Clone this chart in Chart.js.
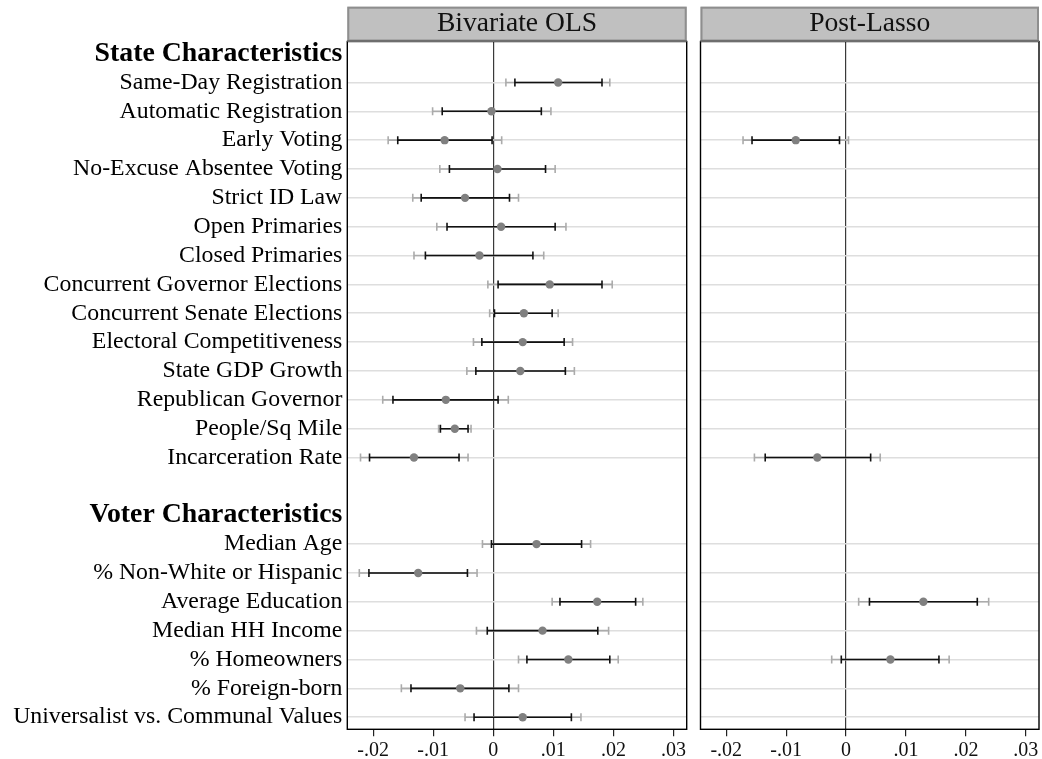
<!DOCTYPE html>
<html>
<head>
<meta charset="utf-8">
<script src="https://cdn.jsdelivr.net/npm/chart.js@4"></script>
<style>
    body { margin: 0; background: #fff; overflow: hidden; }
    canvas { position: absolute; top: 0; }
    #left { left: 0; }
    #right { left: 693px; }
</style>
</head>
<body>
<canvas id="left" width="705" height="759"></canvas>
<canvas id="right" width="362" height="759"></canvas>
<script>
const rowLabels = [
    'State Characteristics',
    'Same-Day Registration',
    'Automatic Registration',
    'Early Voting',
    'No-Excuse Absentee Voting',
    'Strict ID Law',
    'Open Primaries',
    'Closed Primaries',
    'Concurrent Governor Elections',
    'Concurrent Senate Elections',
    'Electoral Competitiveness',
    'State GDP Growth',
    'Republican Governor',
    'People/Sq Mile',
    'Incarceration Rate',
    '',
    'Voter Characteristics',
    'Median Age',
    '% Non-White or Hispanic',
    'Average Education',
    'Median HH Income',
    '% Homeowners',
    '% Foreign-born',
    'Universalist vs. Communal Values',
];
const headerRows = [0, 16];
const xTicks = [-0.02, -0.01, 0, 0.01, 0.02, 0.03];

// Bivariate OLS
const olsCoef = [null, 0.0108, -0.0003, -0.0081, 0.0007, -0.0047, 0.0013, -0.0023, 0.0094, 0.0051, 0.0049, 0.0045, -0.0079, -0.0064, -0.0132, null, null, 0.0072, -0.0125, 0.0173, 0.0082, 0.0125, -0.0055, 0.0049];
const olsInnerLo = [null, 0.0036, -0.0085, -0.0159, -0.0073, -0.0120, -0.0077, -0.0113, 0.0008, 0.0002, -0.0019, -0.0029, -0.0167, -0.0088, -0.0206, null, null, -0.0003, -0.0207, 0.0111, -0.0010, 0.0056, -0.0137, -0.0032];
const olsInnerHi = [null, 0.0181, 0.0080, -0.0002, 0.0087, 0.0027, 0.0103, 0.0066, 0.0181, 0.0098, 0.0118, 0.0120, 0.0008, -0.0042, -0.0057, null, null, 0.0147, -0.0043, 0.0237, 0.0174, 0.0194, 0.0026, 0.0130];
const olsOuterLo = [null, 0.0021, -0.0101, -0.0175, -0.0089, -0.0134, -0.0094, -0.0132, -0.0009, -0.0006, -0.0033, -0.0044, -0.0184, -0.0091, -0.0221, null, null, -0.0018, -0.0223, 0.0098, -0.0028, 0.0042, -0.0153, -0.0047];
const olsOuterHi = [null, 0.0194, 0.0096, 0.0014, 0.0103, 0.0042, 0.0121, 0.0084, 0.0198, 0.0108, 0.0132, 0.0135, 0.0025, -0.0037, -0.0042, null, null, 0.0162, -0.0027, 0.0249, 0.0192, 0.0208, 0.0042, 0.0146];

// Post-Lasso
const lassoCoef = [null, null, null, -0.0084, null, null, null, null, null, null, null, null, null, null, -0.0048, null, null, null, null, 0.0129, null, 0.0074, null, null];
const lassoInnerLo = [null, null, null, -0.0157, null, null, null, null, null, null, null, null, null, null, -0.0135, null, null, null, null, 0.0039, null, -0.0008, null, null];
const lassoInnerHi = [null, null, null, -0.0011, null, null, null, null, null, null, null, null, null, null, 0.0041, null, null, null, null, 0.0219, null, 0.0155, null, null];
const lassoOuterLo = [null, null, null, -0.0172, null, null, null, null, null, null, null, null, null, null, -0.0153, null, null, null, null, 0.0021, null, -0.0024, null, null];
const lassoOuterHi = [null, null, null, 0.0004, null, null, null, null, null, null, null, null, null, null, 0.0057, null, null, null, null, 0.0238, null, 0.0172, null, null];

const SERIF = "'Liberation Serif', 'Times New Roman', serif";

const isItemRow = (i) => rowLabels[i] !== '' && !headerRows.includes(i);

/**
 * Builds one line per row from lo to hi, separated by gaps.
 */
const buildSegments = (lo, hi) => {
    const points = [];
    lo.forEach((v, i) => {
        if (v === null) return;
        points.push({ x: v, y: i }, { x: hi[i], y: i }, { x: null, y: i });
    });
    return points;
};

const buildPoints = (coef) => {
    const points = [];
    coef.forEach((v, i) => {
        if (v !== null) points.push({ x: v, y: i });
    });
    return points;
};

const formatTick = (v) => {
    if (v === 0) return '0';
    return (v < 0 ? '-' : '') + Math.abs(v).toFixed(2).slice(1);
};

/**
 * Draws the frame and the grey header strip with the panel title.
 */
const panelFrame = {
    id: 'panelFrame',
    afterDraw: (chart, args, opts) => {
        const { ctx, chartArea: a } = chart;
        const w = a.right - a.left;
        ctx.save();
        ctx.fillStyle = '#c0c0c0';
        ctx.fillRect(a.left, 6.7, w, a.top - 6.7);
        ctx.strokeStyle = '#8e8e8e';
        ctx.lineWidth = 2;
        ctx.strokeRect(a.left + 1, 7.7, w - 2, a.top - 8.7);

        ctx.strokeStyle = '#000';
        ctx.lineWidth = 1.4;
        ctx.strokeRect(a.left, a.top, w, a.bottom - a.top);
        ctx.strokeStyle = '#6e6e6e';
        ctx.lineWidth = 2;
        ctx.beginPath();
        ctx.moveTo(a.left, a.top - 0.5);
        ctx.lineTo(a.right, a.top - 0.5);
        ctx.stroke();

        ctx.fillStyle = '#111';
        ctx.font = '27.6px ' + SERIF;
        ctx.textAlign = 'center';
        ctx.textBaseline = 'alphabetic';
        ctx.fillText(opts.title, a.left + w / 2, 30.5);
        ctx.restore();
    },
};

/**
 * Creates one coefficient panel.
 * chartRight is the right edge of the plot area inside the canvas.
 */
const createPanel = (id, title, coef, innerLo, innerHi, outerLo, outerHi, showLabels) => {
    const canvas = document.getElementById(id);
    const chartRight = showLabels ? 686.7 : 346;
    const yWidth = showLabels ? 347.3 : 7.5;

    const config = {
        type: 'scatter',
        data: {
            datasets: [
                {
                    data: buildPoints(coef),
                    backgroundColor: '#808080',
                    borderColor: '#808080',
                    pointRadius: 4.2,
                    pointBorderWidth: 0,
                    order: 0,
                },
                {
                    data: buildSegments(innerLo, innerHi),
                    showLine: true,
                    borderColor: '#111',
                    borderWidth: 1.6,
                    pointStyle: 'line',
                    pointRotation: 90,
                    pointRadius: 4,
                    pointBorderColor: '#111',
                    pointBorderWidth: 1.6,
                    order: 1,
                },
                {
                    data: buildSegments(outerLo, outerHi),
                    showLine: true,
                    borderColor: '#ababab',
                    borderWidth: 1.6,
                    pointStyle: 'line',
                    pointRotation: 90,
                    pointRadius: 4,
                    pointBorderColor: '#ababab',
                    pointBorderWidth: 1.6,
                    order: 2,
                },
            ],
        },
        options: {
            responsive: false,
            animation: false,
            events: [],
            devicePixelRatio: 1,
            layout: {
                padding: { top: 41.5, right: canvas.width - chartRight, left: 0, bottom: 0 },
            },
            plugins: {
                legend: { display: false },
                tooltip: { enabled: false },
                panelFrame: { title: title },
            },
            scales: {
                x: {
                    type: 'linear',
                    min: -0.0243,
                    max: 0.0322,
                    afterBuildTicks: (scale) => {
                        scale.ticks = xTicks.map((v) => ({ value: v }));
                    },
                    afterFit: (scale) => {
                        scale.height = 29.7;
                    },
                    border: { display: false },
                    grid: {
                        color: (ctx) => (ctx.tick && ctx.tick.value === 0 ? '#3a3a3a' : 'rgba(0,0,0,0)'),
                        lineWidth: 1.2,
                        tickColor: '#222',
                        tickLength: 7,
                    },
                    ticks: {
                        autoSkip: false,
                        maxRotation: 0,
                        padding: 2,
                        color: '#111',
                        font: { family: SERIF, size: 20 },
                        callback: (v) => formatTick(v),
                    },
                },
                y: {
                    type: 'linear',
                    reverse: true,
                    min: -0.42,
                    max: 23.42,
                    afterBuildTicks: (scale) => {
                        scale.ticks = rowLabels.map((_, i) => ({ value: i }));
                    },
                    afterFit: (scale) => {
                        scale.width = yWidth;
                    },
                    border: { display: false },
                    grid: {
                        color: (ctx) => (ctx.tick && isItemRow(ctx.tick.value) ? '#dedede' : 'rgba(0,0,0,0)'),
                        lineWidth: 1.6,
                        drawTicks: false,
                    },
                    ticks: {
                        display: showLabels,
                        autoSkip: false,
                        padding: 5,
                        color: '#000',
                        font: (ctx) => {
                            if (ctx.tick && headerRows.includes(ctx.tick.value)) {
                                return { family: SERIF, size: 27.8, weight: 'bold' };
                            }
                            return { family: SERIF, size: 23.8 };
                        },
                        callback: (v) => rowLabels[v],
                    },
                },
            },
        },
        plugins: [panelFrame],
    };

    return new Chart(canvas, config);
};

createPanel('left', 'Bivariate OLS', olsCoef, olsInnerLo, olsInnerHi, olsOuterLo, olsOuterHi, true);
createPanel('right', 'Post-Lasso', lassoCoef, lassoInnerLo, lassoInnerHi, lassoOuterLo, lassoOuterHi, false);
</script>
</body>
</html>
